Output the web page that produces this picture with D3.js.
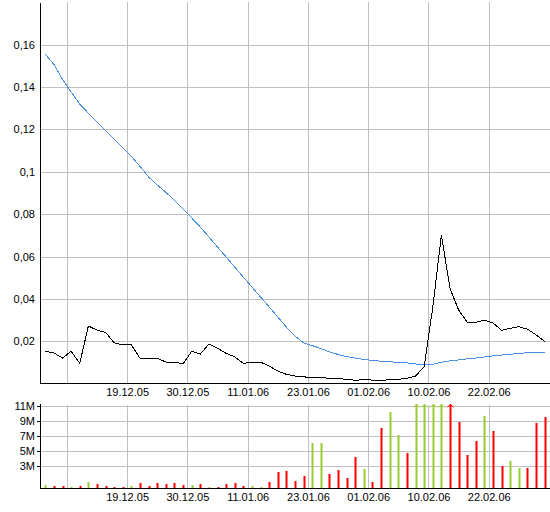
<!DOCTYPE html>
<html><head><meta charset="utf-8">
<script src="https://cdn.jsdelivr.net/npm/d3@7"></script>
<style>
body{margin:0;background:#fff}
svg{display:block}
text{font-family:"Liberation Sans",Arial,sans-serif;font-size:11px;fill:#000}
</style>
</head><body><svg id="c" width="550" height="512"></svg>
<script>
// ---- data ----
const priceSeries = [
 0.0153,0.0145,0.0121,0.0153,0.0096,0.0272,0.0253,0.0242,0.0193,0.0183,
 0.0183,0.0120,0.0120,0.0120,0.0102,0.0102,0.0093,0.0153,0.0140,0.0187,
 0.0167,0.0143,0.0127,0.0096,0.0102,0.0102,0.0083,0.0060,0.0044,0.0036,
 0.0032,0.0030,0.0030,0.0025,0.0024,0.0021,0.0016,0.0019,0.0017,0.0013,
 0.0021,0.0021,0.0025,0.0036,0.0080,0.0360,0.0701,0.0450,0.0348,0.0290,
 0.0290,0.0300,0.0286,0.0252,0.0261,0.0269,0.0257,0.0230,0.0200];
const avgSeries = [
 0.1554,0.1506,0.1435,0.1376,0.1319,0.1276,0.1235,0.1194,0.1154,0.1112,
 0.1072,0.1025,0.0975,0.0937,0.0903,0.0865,0.0823,0.0782,0.0739,0.0692,
 0.0645,0.0598,0.0550,0.0503,0.0456,0.0409,0.0362,0.0315,0.0267,0.0225,
 0.0192,0.0180,0.0166,0.0150,0.0138,0.0128,0.0121,0.0114,0.0110,0.0106,
 0.0103,0.0101,0.0098,0.0093,0.0088,0.0091,0.0101,0.0108,0.0112,0.0117,
 0.0121,0.0126,0.0131,0.0135,0.0139,0.0143,0.0146,0.0147,0.0148];
const volumeM = [
 0.40,0.27,0.27,0.13,0.27,0.80,0.53,0.27,0.13,0.13,
 0.27,0.67,0.27,0.67,0.53,0.67,0.40,0.40,0.53,0.13,
 0.13,0.53,0.67,0.27,0.27,0.13,0.80,2.13,2.27,0.93,
 1.60,6.00,6.00,1.87,2.40,1.33,4.13,2.53,0.80,8.00,
 10.13,7.07,4.67,12.5,13.1,11.8,12.2,14.0,8.80,4.40,
 6.27,9.60,7.60,2.93,3.60,2.67,2.67,8.67,9.47];
const volumeUp = [
 1,0,0,1,0,1,0,0,0,0,
 1,0,0,0,0,0,0,1,0,1,
 0,0,0,0,1,1,0,0,0,0,
 0,1,1,0,0,0,0,1,0,0,
 1,1,0,1,1,1,1,0,0,0,
 0,1,0,0,1,1,0,0,0];
const xTickPos = [2.5,9.5,16.5,23.5,30.5,37.5,44.5,51.5];
const xTickLabels = ["","19.12.05","30.12.05","11.01.06","23.01.06","01.02.06","10.02.06","22.02.06"];
const yTicks = [0.02,0.04,0.06,0.08,0.10,0.12,0.14,0.16];
const yTickLabels = ["0,02","0,04","0,06","0,08","0,1","0,12","0,14","0,16"];
const volTicks = [3,5,7,9,11];
const volTickLabels = ["3M","5M","7M","9M","11M"];

// ---- layout ----
const W = 550, L = 40;
const mainTop = 2, mainBottom = 383;
const volTop = 405, volBottom = 488;
const GRID = "#c0c0c0";

const svg = d3.select("#c");
svg.append("rect").attr("width",550).attr("height",512).attr("fill","#fff");

const x = d3.scaleLinear().domain([-0.5, priceSeries.length - 0.5]).range([41, 549]);
const y = d3.scaleLinear().domain([0, 0.18]).range([383.7, 2.1]);
const yv = d3.scaleLinear().domain([0, 11]).range([488, 405.5]);

function styleGrid(g){
  g.select(".domain").remove();
  g.selectAll(".tick line").attr("stroke", GRID).attr("shape-rendering","crispEdges");
}
function plainText(g){ g.selectAll("text").attr("font-family",null).attr("font-size",null); }

// main grids + y labels
svg.append("g").attr("transform",`translate(${L},0)`)
  .call(d3.axisLeft(y).tickValues(yTicks).tickFormat((d,i)=>yTickLabels[i]).tickSize(-(W-L)).tickPadding(5))
  .call(styleGrid).call(plainText);
svg.append("g").attr("transform",`translate(0,${mainBottom})`)
  .call(d3.axisBottom(x).tickValues(xTickPos).tickFormat(()=>"").tickSize(-(mainBottom-mainTop)))
  .call(styleGrid);
// main x labels
svg.append("g").attr("transform",`translate(0,${mainBottom})`)
  .call(d3.axisBottom(x).tickValues(xTickPos).tickFormat((d,i)=>xTickLabels[i]).tickSize(0).tickPadding(5))
  .call(g=>g.select(".domain").remove()).call(plainText);

// lines
const line = d3.line().x((d,i)=>x(i)).y(d=>y(d));
svg.append("path").datum(avgSeries).attr("d",line).attr("fill","none")
  .attr("stroke","#4a90e2").attr("stroke-width",1).attr("shape-rendering","crispEdges");
svg.append("path").datum(priceSeries).attr("d",line).attr("fill","none")
  .attr("stroke","#000").attr("stroke-width",1).attr("shape-rendering","crispEdges");

// main axes lines
svg.append("line").attr("x1",L+0.5).attr("x2",L+0.5).attr("y1",mainTop+1).attr("y2",mainBottom+1)
  .attr("stroke","#000").attr("shape-rendering","crispEdges");
svg.append("line").attr("x1",L).attr("x2",W).attr("y1",mainBottom+0.5).attr("y2",mainBottom+0.5)
  .attr("stroke","#000").attr("shape-rendering","crispEdges");

// volume grids
svg.append("g").attr("transform",`translate(${L},0)`)
  .call(d3.axisLeft(yv).tickValues(volTicks).tickFormat(()=>"").tickSize(-(W-L)))
  .call(styleGrid);
svg.append("g").attr("transform",`translate(0,${volBottom})`)
  .call(d3.axisBottom(x).tickValues(xTickPos).tickFormat(()=>"").tickSize(-(volBottom-volTop)))
  .call(styleGrid);
// volume y labels with small ticks
svg.append("g").attr("transform",`translate(${L},0)`)
  .call(d3.axisLeft(yv).tickValues(volTicks).tickFormat((d,i)=>volTickLabels[i]).tickSize(3).tickPadding(2))
  .call(g=>g.select(".domain").remove())
  .call(g=>g.selectAll(".tick line").attr("stroke","#000").attr("shape-rendering","crispEdges"))
  .call(plainText);
// volume x labels
svg.append("g").attr("transform",`translate(0,${volBottom})`)
  .call(d3.axisBottom(x).tickValues(xTickPos).tickFormat((d,i)=>xTickLabels[i]).tickSize(0).tickPadding(5))
  .call(g=>g.select(".domain").remove()).call(plainText);

// volume bars
const vmax = 11.15;
const bars = svg.append("g");
volumeM.forEach((v,i)=>{
  const col = volumeUp[i] ? "#99cc33" : "#ff0000";
  const xx = Math.round(x(i)) - 0.5;
  const top = yv(Math.min(v, vmax));
  bars.append("rect").attr("x",xx).attr("width",2)
    .attr("y",top).attr("height",yv(0)-top).attr("fill",col);
  if (v > vmax) {
    bars.append("polyline")
      .attr("points",`${xx-2},${top+3} ${xx+1},${top} ${xx+4},${top+3}`)
      .attr("fill","none").attr("stroke",col).attr("stroke-width",1);
  }
});

// volume axes lines
svg.append("line").attr("x1",L+0.5).attr("x2",L+0.5).attr("y1",404).attr("y2",volBottom+1)
  .attr("stroke","#000").attr("shape-rendering","crispEdges");
svg.append("line").attr("x1",L).attr("x2",W).attr("y1",volBottom+0.5).attr("y2",volBottom+0.5)
  .attr("stroke","#000").attr("shape-rendering","crispEdges");
</script></body></html>
